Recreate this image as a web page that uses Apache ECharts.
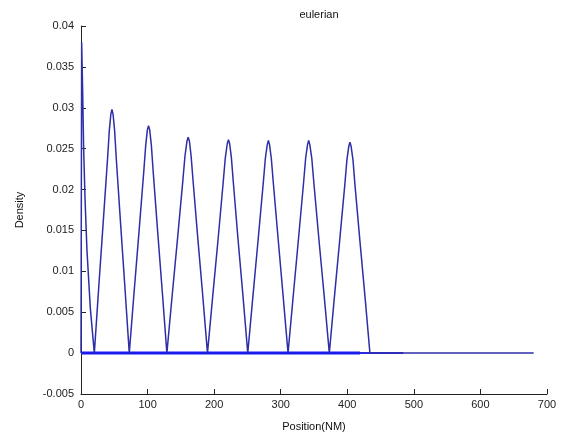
<!DOCTYPE html>
<html>
<head>
<meta charset="utf-8">
<script src="https://cdn.jsdelivr.net/npm/echarts@6/dist/echarts.min.js"></script>
<style>
  html, body { margin: 0; padding: 0; background: #fff; }
  #chart { width: 568px; height: 437px; }
</style>
</head>
<body>
<div id="chart"></div>
<script>
// Density profile along the track (position in NM)
const positions = [
  0, 1, 2.5, 4, 6, 9, 14, 20,
  26.6, 33.2, 39.9, 42.5, 44.8, 46.5, 48.2, 50.5, 53, 59.5, 66, 72.5,
  79.8, 87, 94.3, 97.2, 99.7, 101.5, 103.2, 105.7, 108.4, 115.3, 122.1, 129,
  137, 145, 153, 156.2, 159.1, 161, 162.9, 165.4, 168.3, 175.5, 182.8, 190,
  197.9, 205.8, 213.6, 216.8, 219.7, 221.5, 223.3, 225.9, 228.8, 236, 243.3, 250.5,
  258.3, 266, 273.8, 276.9, 279.8, 281.5, 283.2, 285.9, 288.9, 296.3, 303.6, 311,
  318.8, 326.5, 334.3, 337.4, 340.3, 342, 343.7, 346.7, 349.8, 357.5, 365.3, 373,
  380.8, 388.5, 396.3, 399.4, 402.3, 404, 405.7, 408.6, 411.5, 419, 426.5, 434,
  680
];
const density = [
  0, 0.038, 0.032, 0.025, 0.019, 0.0125, 0.0055, 0,
  0.0080, 0.0158, 0.0238, 0.0272, 0.0292, 0.0298, 0.0292, 0.0272, 0.0238, 0.0158, 0.0080, 0,
  0.0075, 0.0147, 0.0222, 0.0254, 0.0273, 0.0278, 0.0273, 0.0254, 0.0222, 0.0147, 0.0075, 0,
  0.0071, 0.0140, 0.0211, 0.0241, 0.0259, 0.0264, 0.0259, 0.0241, 0.0211, 0.0140, 0.0071, 0,
  0.0070, 0.0138, 0.0209, 0.0239, 0.0256, 0.0261, 0.0256, 0.0239, 0.0209, 0.0138, 0.0070, 0,
  0.0070, 0.0138, 0.0208, 0.0238, 0.0255, 0.0260, 0.0255, 0.0238, 0.0208, 0.0138, 0.0070, 0,
  0.0070, 0.0138, 0.0208, 0.0238, 0.0255, 0.0260, 0.0255, 0.0238, 0.0208, 0.0138, 0.0070, 0,
  0.0070, 0.0137, 0.0206, 0.0236, 0.0253, 0.0258, 0.0253, 0.0236, 0.0206, 0.0137, 0.0070, 0,
  0
];
// Zero-density baselines of the other traces
const baselineA = [[0, 0], [419, 0]];
const baselineB = [[0, 0], [484, 0]];

const xTicks = [0, 100, 200, 300, 400, 500, 600, 700];
const yTicks = [-0.005, 0, 0.005, 0.01, 0.015, 0.02, 0.025, 0.03, 0.035, 0.04];

const font = 'Liberation Sans, Arial, sans-serif';
const chart = echarts.init(document.getElementById('chart'), null, { renderer: 'canvas' });

chart.setOption({
  animation: false,
  backgroundColor: '#ffffff',
  title: {
    text: 'eulerian',
    left: 314, top: 4, textAlign: 'center',
    textStyle: { fontFamily: font, fontSize: 11, fontWeight: 'normal', color: '#111' }
  },
  grid: { left: 81, right: 21, top: 26, bottom: 43 },
  xAxis: {
    type: 'value',
    min: xTicks[0], max: xTicks[xTicks.length - 1], interval: 100,
    name: 'Position(NM)', nameLocation: 'middle', nameGap: 27,
    nameTextStyle: { fontFamily: font, fontSize: 11, color: '#111' },
    axisLine: { onZero: false, lineStyle: { color: '#222', width: 1 } },
    axisTick: { inside: true, length: 5, lineStyle: { color: '#222' } },
    axisLabel: { fontFamily: font, fontSize: 11, color: '#222', margin: 5 },
    splitLine: { show: false }
  },
  yAxis: {
    type: 'value',
    min: yTicks[0], max: yTicks[yTicks.length - 1], interval: 0.005,
    name: 'Density', nameLocation: 'middle', nameGap: 56, nameRotate: 90,
    nameTextStyle: { fontFamily: font, fontSize: 11, color: '#111' },
    axisLine: { show: true, lineStyle: { color: '#222', width: 1 } },
    axisTick: { show: true, inside: true, length: 5, lineStyle: { color: '#222' } },
    axisLabel: {
      fontFamily: font, fontSize: 11, color: '#222', margin: 7,
      formatter: v => String(+v.toFixed(3))
    },
    splitLine: { show: false }
  },
  series: [
    {
      type: 'line', data: baselineB, showSymbol: false, silent: true,
      lineStyle: { color: '#2a2ae0', width: 2 }
    },
    {
      type: 'line', data: baselineA, showSymbol: false, silent: true,
      lineStyle: { color: '#1a1aee', width: 3 }
    },
    {
      type: 'line', showSymbol: false, silent: true,
      data: positions.map((x, i) => [x, density[i]]),
      lineStyle: { color: '#2e2ea8', width: 1.5 }
    }
  ]
});
</script>
</body>
</html>
